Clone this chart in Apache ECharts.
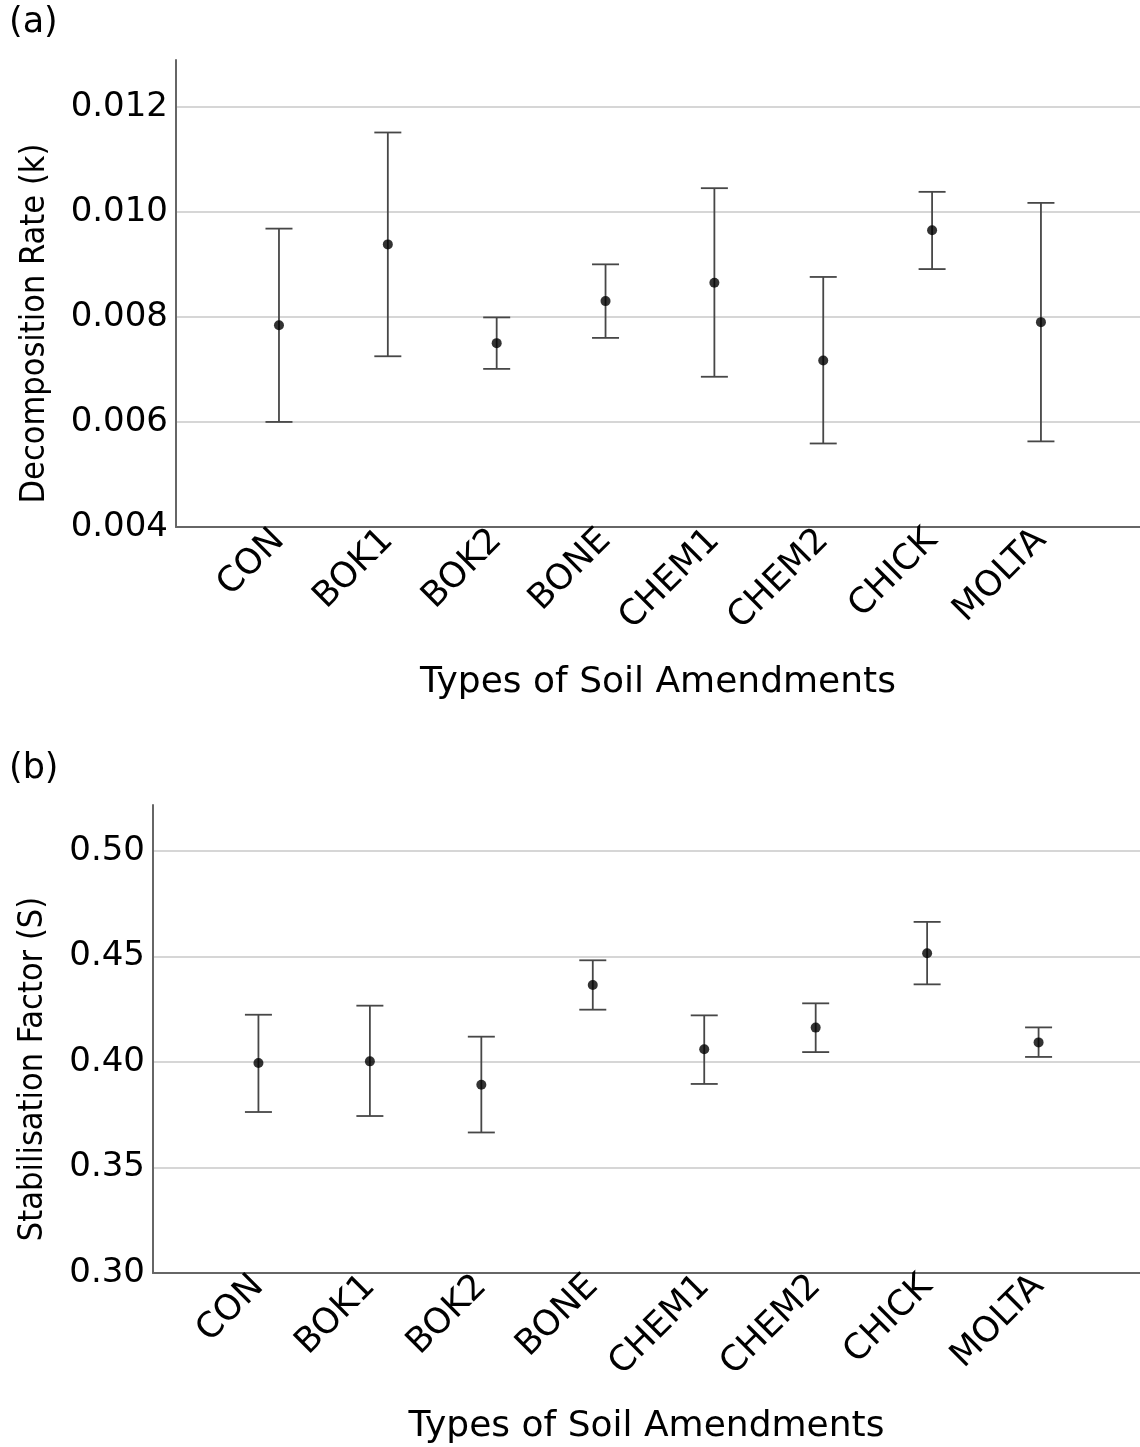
<!DOCTYPE html>
<html>
<head>
<meta charset="utf-8">
<script src="https://cdn.jsdelivr.net/npm/echarts@6/dist/echarts.min.js"></script>
<style>
html, body { margin: 0; padding: 0; background: #fff; }
#chart { width: 1140px; height: 1447px; }
</style>
</head>
<body>
<div id="chart"></div>
<script>
var categories = ['CON', 'BOK1', 'BOK2', 'BONE', 'CHEM1', 'CHEM2', 'CHICK', 'MOLTA'];

// (a) decomposition rate k : mean with lower / upper bar ends
var kMean  = [0.00784, 0.00938, 0.00750, 0.00830, 0.00865, 0.00717, 0.00965, 0.00790];
var kLower = [0.00600, 0.00725, 0.00701, 0.00760, 0.00686, 0.00559, 0.00891, 0.00563];
var kUpper = [0.00968, 0.01151, 0.00799, 0.00900, 0.01045, 0.00876, 0.01038, 0.01017];

// (b) stabilisation factor S
var sMean  = [0.3995, 0.4003, 0.3892, 0.4365, 0.4060, 0.4163, 0.4515, 0.4093];
var sLower = [0.3763, 0.3744, 0.3666, 0.4248, 0.3896, 0.4047, 0.4368, 0.4024];
var sUpper = [0.4224, 0.4267, 0.4120, 0.4482, 0.4221, 0.4278, 0.4664, 0.4164];

var FONT = 'DejaVu Sans';
var FONT_NARROW = "'DejaVu Sans Condensed', 'DejaVu Sans'";
var chart = echarts.init(document.getElementById('chart'));

function renderErrorBar(params, api) {
    var x = api.value(0);
    var lo = api.coord([x, api.value(1)]);
    var hi = api.coord([x, api.value(2)]);
    var half = 13.5;
    var style = { stroke: '#474747', lineWidth: 1.8, fill: null };
    return {
        type: 'group',
        children: [
            { type: 'line', shape: { x1: lo[0], y1: lo[1], x2: hi[0], y2: hi[1] }, style: style },
            { type: 'line', shape: { x1: hi[0] - half, y1: hi[1], x2: hi[0] + half, y2: hi[1] }, style: style },
            { type: 'line', shape: { x1: lo[0] - half, y1: lo[1], x2: lo[0] + half, y2: lo[1] }, style: style }
        ]
    };
}

function catAxis(gridIndex, gap) {
    return {
        type: 'value',
        gridIndex: gridIndex,
        min: -0.946,
        max: 7.91,
        name: 'Types of Soil Amendments',
        nameLocation: 'middle',
        nameGap: gap,
        nameTextStyle: { fontSize: 36, color: '#000', fontFamily: FONT, verticalAlign: 'middle' },
        axisLine: { onZero: false, lineStyle: { color: '#666', width: 2 } },
        axisTick: { show: false },
        splitLine: { show: false },
        axisLabel: {
            customValues: categories.map(function (c, i) { return i; }),
            formatter: function (v) { return categories[v]; },
            rotate: 45,
            margin: 8,
            fontSize: 35,
            color: '#000',
            fontFamily: FONT
        }
    };
}

function valAxis(gridIndex, name, min, max, interval, digits, gap) {
    return {
        type: 'value',
        gridIndex: gridIndex,
        min: min,
        max: max,
        interval: interval,
        name: name,
        nameLocation: 'middle',
        nameGap: gap,
        nameTextStyle: { fontSize: 34, color: '#000', fontFamily: FONT_NARROW, verticalAlign: 'middle', padding: [0, 60, 0, 0] },
        axisLine: { show: true, onZero: false, lineStyle: { color: '#666', width: 2 } },
        axisTick: { show: false },
        axisLabel: {
            margin: 8,
            fontSize: 34,
            color: '#000',
            fontFamily: FONT,
            showMaxLabel: false,
            formatter: function (v) { return v.toFixed(digits); }
        },
        splitLine: { show: true, showMaxLine: false, showMinLine: false, lineStyle: { color: '#c8c8c8', width: 1.5 } }
    };
}

function barData(lower, upper) {
    return categories.map(function (c, i) { return [i, lower[i], upper[i]]; });
}
function meanData(mean) {
    return categories.map(function (c, i) { return [i, mean[i]]; });
}

chart.setOption({
    animation: false,
    textStyle: { fontFamily: FONT },
    graphic: [
        { type: 'text', left: 9, top: 5, style: { text: '(a)', fontSize: 35, fontFamily: FONT, fill: '#000' } },
        { type: 'text', left: 9, top: 751, style: { text: '(b)', fontSize: 35, fontFamily: FONT, fill: '#000' } }
    ],
    grid: [
        { left: 176, top: 60, right: 0, height: 467 },
        { left: 153, top: 805, right: 0, height: 468 }
    ],
    xAxis: [catAxis(0, 156), catAxis(1, 154)],
    yAxis: [
        valAxis(0, 'Decomposition Rate (k)', 0.004, 0.01289, 0.002, 3, 141),
        valAxis(1, 'Stabilisation Factor (S)', 0.30, 0.5218, 0.05, 2, 120)
    ],
    series: [
        { type: 'custom', xAxisIndex: 0, yAxisIndex: 0, renderItem: renderErrorBar, data: barData(kLower, kUpper), z: 2 },
        { type: 'scatter', xAxisIndex: 0, yAxisIndex: 0, symbolSize: 10, itemStyle: { color: '#000' }, data: meanData(kMean), z: 3 },
        { type: 'custom', xAxisIndex: 1, yAxisIndex: 1, renderItem: renderErrorBar, data: barData(sLower, sUpper), z: 2 },
        { type: 'scatter', xAxisIndex: 1, yAxisIndex: 1, symbolSize: 10, itemStyle: { color: '#000' }, data: meanData(sMean), z: 3 }
    ]
});
</script>
</body>
</html>
